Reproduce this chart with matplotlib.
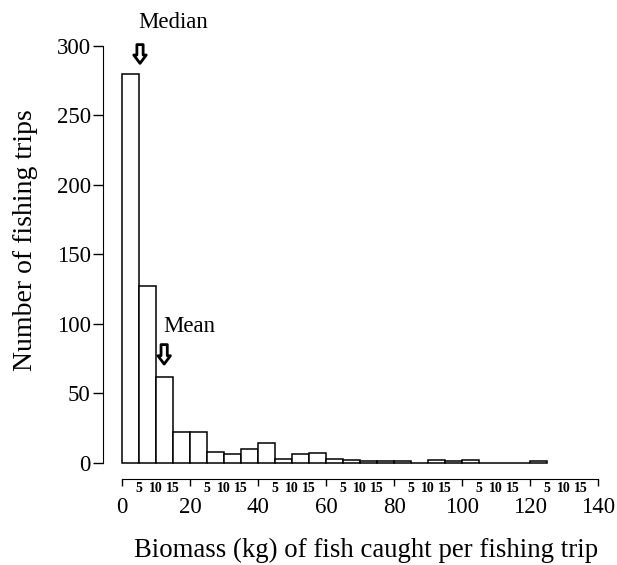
import numpy as np
import matplotlib.pyplot as plt

# histogram of catch per trip, bins of 5 kg
bin_edges = np.arange(0, 130, 5)
counts = [280, 127, 62, 22, 22, 8, 6, 10, 14, 3, 6, 7, 3, 2,
          1, 1, 1, 0, 2, 1, 2, 0, 0, 0, 1]

major_ticks = [0, 20, 40, 60, 80, 100, 120, 140]
minor_ticks = [m + d for m in major_ticks[:-1] for d in (5, 10, 15)]
minor_labels = ['5', '10', '15'] * (len(major_ticks) - 1)

median_x, mean_x = 5.3, 12.4

plt.rcParams['font.family'] = ['Liberation Serif', 'DejaVu Serif']

fig = plt.figure(figsize=(6.17, 5.65), dpi=100)
ax = fig.add_axes([0.1977, 0.1811, 0.772, 0.7375])

ax.bar(bin_edges[:-1], counts, width=5, align='edge',
       facecolor='white', edgecolor='black', linewidth=1.1, clip_on=False)

ax.set_xlim(0, 140)
ax.set_ylim(0, 300)

for s in ['top', 'right']:
    ax.spines[s].set_visible(False)
ax.spines['left'].set_position(('outward', 14))
ax.spines['bottom'].set_position(('outward', 12))

ax.set_yticks([0, 50, 100, 150, 200, 250, 300])
ax.tick_params(axis='y', labelsize=16.5, length=7, width=1, pad=1.5)
ax.set_xticks(major_ticks)
ax.tick_params(axis='x', which='major', labelsize=16.5, length=5, width=1, pad=8)
ax.set_xticks(minor_ticks, minor=True)
ax.set_xticklabels(minor_labels, minor=True, fontsize=10, fontweight='bold')
ax.tick_params(axis='x', which='minor', length=0, pad=2)

ax.set_xlabel('Biomass (kg) of fish caught per fishing trip', fontsize=19.3)
ax.xaxis.set_label_coords(0.512, -0.181)
ax.set_ylabel('Number of fishing trips', fontsize=20)
ax.yaxis.set_label_coords(-0.176, 0.534)

arrow = dict(arrowstyle='simple,head_length=0.6,head_width=0.9,tail_width=0.45',
             fc='white', ec='black', lw=2, mutation_scale=10)
ax.annotate('', xy=(median_x, 285.5), xytext=(median_x, 303),
            arrowprops=arrow, annotation_clip=False)
ax.text(15, 317, 'Median', fontsize=16.5, ha='center', va='center', clip_on=False)
ax.annotate('', xy=(mean_x, 69), xytext=(mean_x, 87),
            arrowprops=arrow, annotation_clip=False)
ax.text(19.7, 98, 'Mean', fontsize=16.5, ha='center', va='center')

fig.savefig('out.png', dpi=100)
